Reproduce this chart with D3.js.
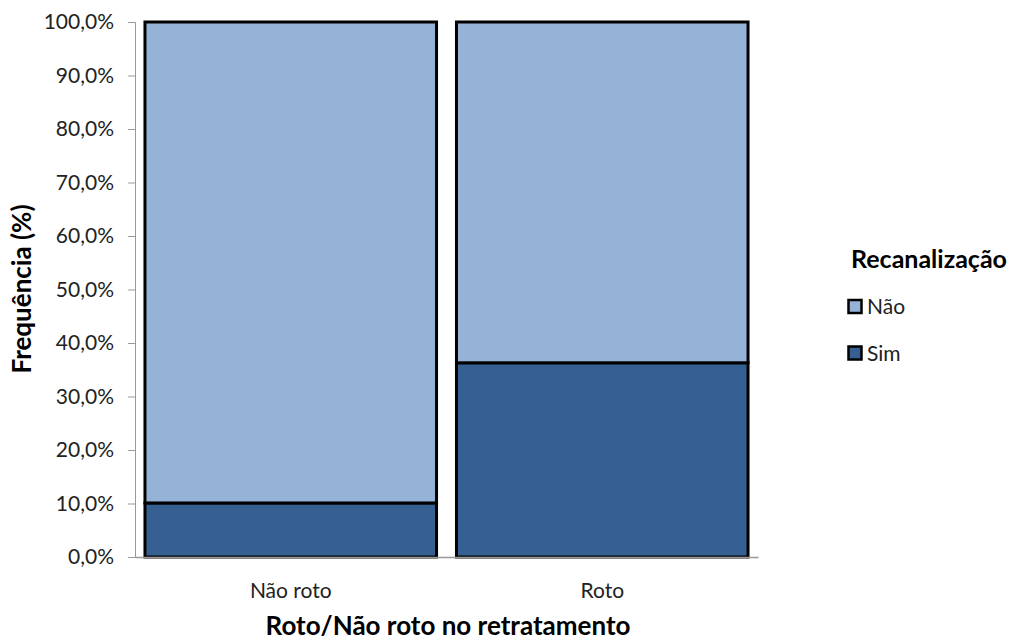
<!DOCTYPE html>
<html lang="pt">
  <head>
    <meta charset="utf-8">
    <title>Recanalização</title>
    <script src="https://d3js.org/d3.v7.min.js"></script>
    <style>
      body { margin: 0; background: #fff; }
      text { font-family: Lato, "Open Sans", sans-serif; fill: #222; }
    </style>
  </head>
  <body>
    <script>
      // data
      var categories = ["Não roto", "Roto"];
      var simValues = [10.1, 36.3];
      var naoValues = [89.9, 63.7];
      var seriesNames = ["Não", "Sim"];
      var seriesColors = ["#95b3d7", "#366092"];
      var yTicks = [0, 10, 20, 30, 40, 50, 60, 70, 80, 90, 100];

      var width = 1015, height = 640;
      var margin = {top: 22, left: 135, right: 257, bottom: 83};

      var svg = d3.select("body").append("svg")
        .attr("width", width)
        .attr("height", height);

      var x = d3.scaleBand()
        .domain(categories)
        .range([margin.left, width - margin.right])
        .paddingInner(0.064)
        .paddingOuter(0.032);

      var y = d3.scaleLinear()
        .domain([0, 100])
        .range([height - margin.bottom, margin.top]);

      var rows = categories.map(function(c, i) {
        return {cat: c, Sim: simValues[i], "Não": naoValues[i]};
      });
      var stack = d3.stack().keys(["Sim", "Não"])(rows);

      // y axis
      var yAxis = svg.append("g")
        .attr("transform", "translate(" + margin.left + ",0)")
        .call(d3.axisLeft(y).tickValues(yTicks).tickSize(7).tickPadding(14)
          .tickFormat(function(d) { return d.toFixed(1).replace(".", ",") + "%"; }));
      yAxis.select(".domain").attr("stroke", "#999");
      yAxis.selectAll(".tick line").attr("stroke", "#999");
      yAxis.selectAll("text").style("font-size", "21px").attr("fill", "#222");

      // bars
      svg.selectAll("g.layer")
        .data(stack)
        .enter().append("g")
          .attr("class", "layer")
          .attr("fill", function(d) { return d.key === "Sim" ? seriesColors[1] : seriesColors[0]; })
        .selectAll("rect")
        .data(function(d) { return d; })
        .enter().append("rect")
          .attr("x", function(d) { return x(d.data.cat); })
          .attr("y", function(d) { return y(d[1]); })
          .attr("width", x.bandwidth())
          .attr("height", function(d) { return y(d[0]) - y(d[1]); })
          .attr("stroke", "#000")
          .attr("stroke-width", 3);

      // x axis
      var xAxis = svg.append("g")
        .attr("transform", "translate(0," + (height - margin.bottom) + ")")
        .call(d3.axisBottom(x).tickSize(0).tickPadding(26));
      xAxis.select(".domain").attr("stroke", "#999").attr("stroke-width", 1.5);
      xAxis.selectAll("text").style("font-size", "21px").attr("fill", "#222");

      // axis titles
      svg.append("text")
        .attr("x", 448)
        .attr("y", 635)
        .attr("text-anchor", "middle")
        .style("font-size", "26px")
        .style("font-weight", "bold")
        .style("fill", "#000")
        .text("Roto/Não roto no retratamento");

      svg.append("text")
        .attr("transform", "translate(31,289) rotate(-90)")
        .attr("text-anchor", "middle")
        .style("font-size", "26px")
        .style("font-weight", "bold")
        .style("fill", "#000")
        .text("Frequência (%)");

      // legend
      var legend = svg.append("g").attr("transform", "translate(848,0)");
      legend.append("text")
        .attr("x", 3).attr("y", 268)
        .style("font-size", "25px")
        .style("font-weight", "bold")
        .style("fill", "#000")
        .text("Recanalização");
      var items = legend.selectAll("g.item")
        .data(seriesNames)
        .enter().append("g")
          .attr("class", "item")
          .attr("transform", function(d, i) { return "translate(0," + (306.5 + i * 46.5) + ")"; });
      items.append("rect")
        .attr("x", 0.5).attr("y", -6.5)
        .attr("width", 13).attr("height", 13)
        .attr("fill", function(d, i) { return seriesColors[i]; })
        .attr("stroke", "#000").attr("stroke-width", 2.5);
      items.append("text")
        .attr("x", 19).attr("y", 7.5)
        .style("font-size", "21px")
        .text(function(d) { return d; });
    </script>
  </body>
</html>
